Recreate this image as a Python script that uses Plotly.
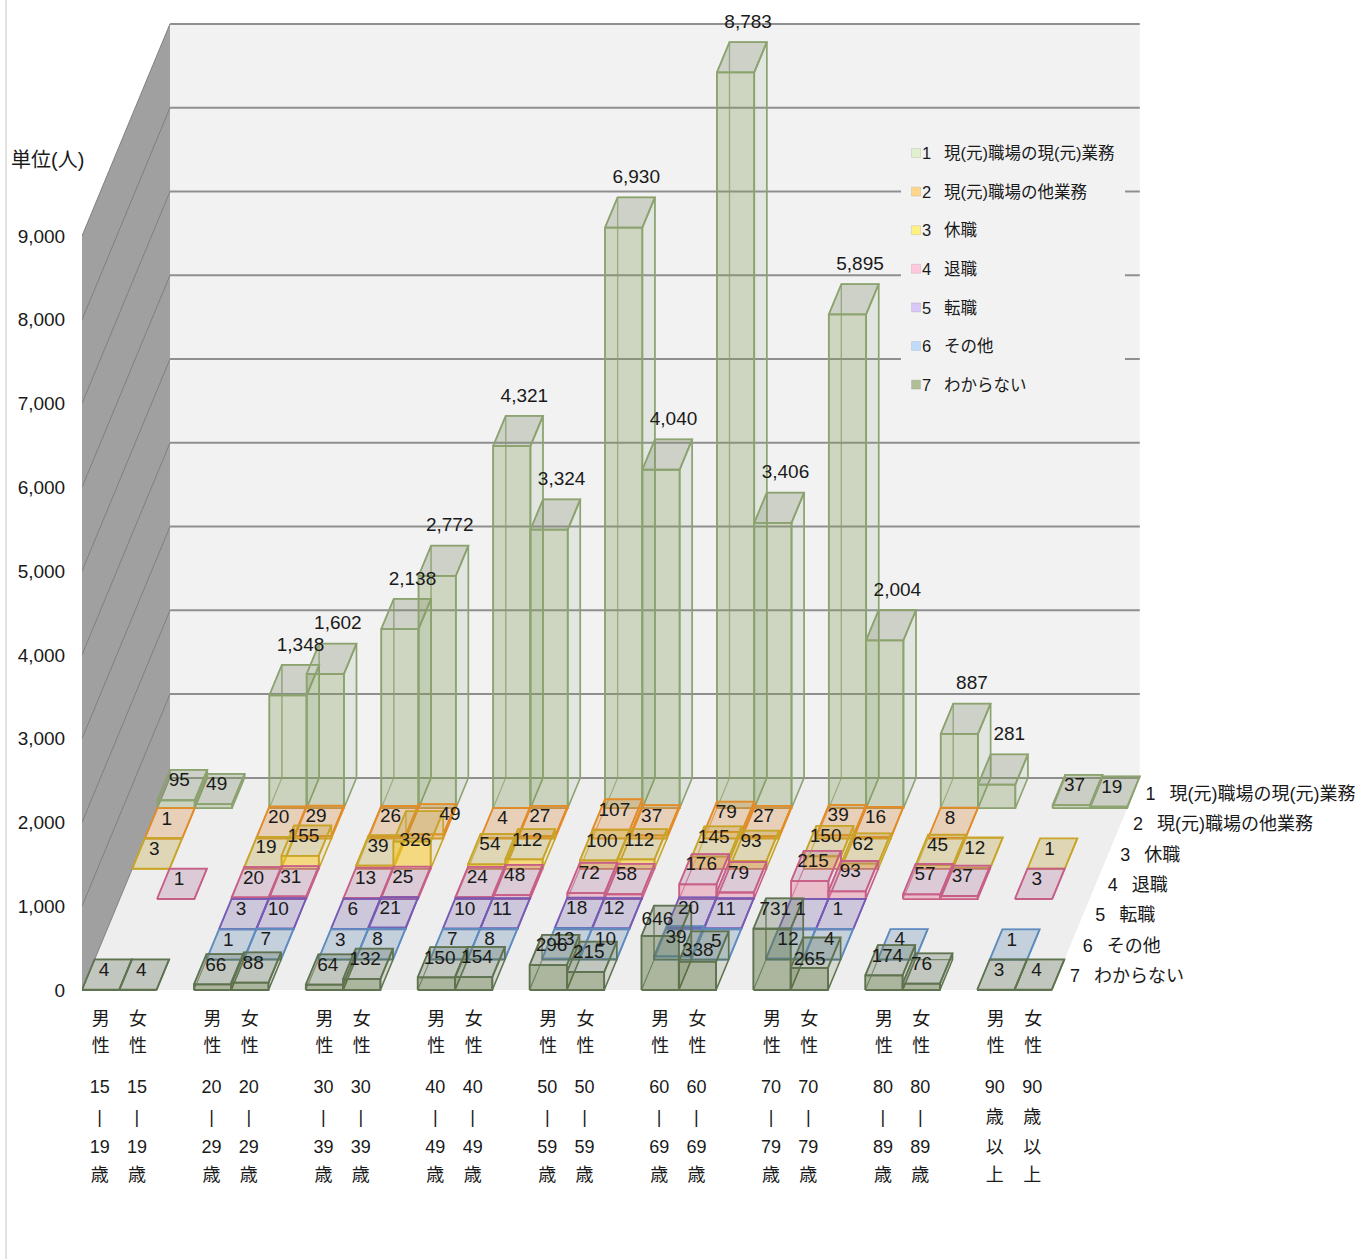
import plotly.graph_objects as go

# ---- data -------------------------------------------------------------
SERIES_NAMES = ["現(元)職場の現(元)業務", "現(元)職場の他業務", "休職", "退職", "転職", "その他", "わからない"]
SERIES_1 = [95, 49, 1348, 1602, 2138, 2772, 4321, 3324, 6930, 4040, 8783, 3406, 5895, 2004, 887, 281, 37, 19]
SERIES_2 = [1, None, 20, 29, 26, 49, 4, 27, 107, 37, 79, 27, 39, 16, 8, None, None, None]
SERIES_3 = [3, None, 19, 155, 39, 326, 54, 112, 100, 112, 145, 93, 150, 62, 45, 12, 1, None]
SERIES_4 = [None, 1, 20, 31, 13, 25, 24, 48, 72, 58, 176, 79, 215, 93, 57, 37, 3, None]
SERIES_5 = [None, None, 3, 10, 6, 21, 10, 11, 18, 12, 20, 11, 1, 1, None, None, None, None]
SERIES_6 = [None, None, 1, 7, 3, 8, 7, 8, 13, 10, 39, 5, 12, 4, 4, None, 1, None]
SERIES_7 = [4, 4, 66, 88, 64, 132, 150, 154, 296, 215, 646, 338, 731, 265, 174, 76, 3, 4]
ALL_SERIES = [SERIES_1, SERIES_2, SERIES_3, SERIES_4, SERIES_5, SERIES_6, SERIES_7]
GENDERS = [["男", "性"], ["女", "性"]]
AGE_GROUPS = [["15", "|", "19", "歳"], ["20", "|", "29", "歳"], ["30", "|", "39", "歳"],
              ["40", "|", "49", "歳"], ["50", "|", "59", "歳"], ["60", "|", "69", "歳"],
              ["70", "|", "79", "歳"], ["80", "|", "89", "歳"], ["90", "歳", "以", "上"]]
VALUE_TICKS = [0, 1000, 2000, 3000, 4000, 5000, 6000, 7000, 8000, 9000]

# ---- styles -----------------------------------------------------------
EDGE = ["rgb(140,163,112)", "rgb(226,140,40)", "rgb(200,165,40)", "rgb(200,95,135)",
        "rgb(120,90,180)", "rgb(95,140,190)", "rgb(95,115,80)"]
FRONT = ["rgba(130,155,90,.32)", "rgba(240,160,40,.40)", "rgba(250,200,40,.55)", "rgba(230,130,160,.45)",
         "rgba(150,110,220,.40)", "rgba(110,160,220,.40)", "rgba(90,110,60,.45)"]
TOP = ["rgba(130,140,110,.32)", "rgba(220,140,60,.30)", "rgba(190,160,50,.30)", "rgba(180,120,160,.30)",
       "rgba(130,110,180,.30)", "rgba(100,140,180,.30)", "rgba(110,125,100,.35)"]
SIDE = ["rgba(130,160,120,.14)", "rgba(220,150,80,.12)", "rgba(200,170,60,.12)", "rgba(200,120,160,.12)",
        "rgba(130,110,180,.12)", "rgba(100,140,180,.12)", "rgba(100,120,80,.18)"]
SWATCH = ["rgb(225,240,205)", "rgb(255,215,140)", "rgb(255,240,130)", "rgb(255,200,220)",
          "rgb(215,200,245)", "rgb(190,220,250)", "rgb(175,190,150)"]
LATIN = "'Liberation Sans', 'Noto Sans CJK JP', sans-serif"
INK = "#1a1a1a"

# ---- geometry: one category = 37.3 px, 1 person = 0.08378 px ----------
W, H = 1359, 1259
LEFT_PX, ZERO_PX = 82.0, 990.0
CAT_PX, VAL_PX = 37.3, (990 - 236) / 9000
ROW_DX_PX, ROW_DY_PX = 12.57, 30.3
N_CATS, N_ROWS = 26, 7
TOP_VALUE = 9000

# hand placement of crowded data labels in the original: (series, index) -> px right, px down
LABEL_NUDGE = {(1, 5): (22, 0), (2, 5): (0, 18), (6, 10): (-6, 3), (6, 11): (-3, 8), (6, 13): (-3, 11),
               (5, 11): (3, 2), (5, 13): (4, 0), (5, 9): (4, 0), (6, 15): (-3, 0)}


def px_x(px):
    return px / CAT_PX


def px_y(px):
    return px / VAL_PX


def screen(x_px, y_px):
    return px_x(x_px - LEFT_PX), px_y(ZERO_PX - y_px)


def project(cat, row, value, ox=0.0, oy=0.0):
    """Oblique projection: (category, depth row, value) -> axis units, plus a pixel nudge."""
    return cat + px_x(row * ROW_DX_PX + ox), value + px_y(row * ROW_DY_PX + oy)


def poly(points):
    xs, ys = zip(*[project(*p) for p in points])
    return list(xs) + [xs[0], None], list(ys) + [ys[0], None]


def add_poly(bucket, points):
    xs, ys = poly(points)
    bucket[0].extend(xs)
    bucket[1].extend(ys)


fig = go.Figure()


def wall(points, colour):
    xs, ys = poly(points)
    fig.add_trace(go.Scatter(x=xs, y=ys, mode="lines", fill="toself", fillcolor=colour,
                             line=dict(width=0), hoverinfo="skip", showlegend=False))


wall([(0, 7, 0), (N_CATS, 7, 0), (N_CATS, 7, TOP_VALUE), (0, 7, TOP_VALUE)], "#f2f2f2")
wall([(0, 0, 0), (0, 7, 0), (0, 7, TOP_VALUE), (0, 0, TOP_VALUE)], "#a0a0a0")
wall([(0, 0, 0), (N_CATS, 0, 0), (N_CATS, 7, 0), (0, 7, 0)], "#eeeeee")

back_x, back_y, side_x, side_y = [], [], [], []
for v in VALUE_TICKS:
    x0, y0 = project(0, 7, v)
    x1, y1 = project(N_CATS, 7, v)
    back_x += [x0, x1, None]
    back_y += [y0, y1, None]
    x2, y2 = project(0, 0, v)
    side_x += [x2, x0, None]
    side_y += [y2, y0, None]
fig.add_trace(go.Scatter(x=side_x, y=side_y, mode="lines", line=dict(color="#7f7f7f", width=1),
                         hoverinfo="skip", showlegend=False))
fig.add_trace(go.Scatter(x=back_x, y=back_y, mode="lines", line=dict(color="#8f8f8f", width=2),
                         hoverinfo="skip", showlegend=False))

# legend panel, over the grid lines
LEGEND_BOX = [(901, 135), (1125, 135), (1125, 405), (901, 405), (901, 135)]
bx, by = zip(*[screen(*p) for p in LEGEND_BOX])
fig.add_trace(go.Scatter(x=bx, y=by, mode="lines", fill="toself", fillcolor="#f2f2f2",
                         line=dict(width=0), hoverinfo="skip", showlegend=False))


def cat_of(i):
    return (i // 2) * 3 + i % 2


# bars, painted back row to front row
label_x, label_y, label_t = [], [], []
for s in range(N_ROWS):
    row = N_ROWS - 1 - s
    hidden, side, top, front = ([], []), ([], []), ([], []), ([], [])
    for i, v in enumerate(ALL_SERIES[s]):
        if v is None:
            continue
        c = cat_of(i)
        add_poly(hidden, [(c, row, 0), (c, row + 1, 0), (c, row + 1, v), (c, row, v)])
        add_poly(hidden, [(c, row + 1, 0), (c + 1, row + 1, 0), (c + 1, row + 1, v), (c, row + 1, v)])
        add_poly(side, [(c + 1, row, 0), (c + 1, row + 1, 0), (c + 1, row + 1, v), (c + 1, row, v)])
        add_poly(top, [(c, row, v), (c + 1, row, v), (c + 1, row + 1, v), (c, row + 1, v)])
        add_poly(front, [(c, row, 0), (c + 1, row, 0), (c + 1, row, v), (c, row, v)])
        nx, ny = LABEL_NUDGE.get((s, i), (0, 0))
        if s == 0 and v >= 200:
            lx, ly = project(c + 0.5, row + 1, v, nx, 19 - ny)
        else:
            lx, ly = project(c + 0.5, row + 0.5, v, -3 + nx, 3.5 - ny)
        label_x.append(lx)
        label_y.append(ly)
        label_t.append(f"{v:,}")
    for pts, fc, width in ((hidden, None, 1.2), (side, SIDE[s], 1.6), (top, TOP[s], 1.8), (front, FRONT[s], 1.8)):
        fig.add_trace(go.Scatter(x=pts[0], y=pts[1], mode="lines", name=SERIES_NAMES[s],
                                 fill="toself" if fc else None, fillcolor=fc,
                                 line=dict(color=EDGE[s], width=width),
                                 opacity=0.75 if fc is None else 1,
                                 hoverinfo="skip", showlegend=False))

# data labels
fig.add_trace(go.Scatter(x=label_x, y=label_y, text=label_t, mode="text", textposition="middle center",
                         textfont=dict(family=LATIN, size=19, color=INK), hoverinfo="skip", showlegend=False))

# depth axis labels
depth_x, depth_y, depth_t = [], [], []
for s, name in enumerate(SERIES_NAMES):
    x, y = project(N_CATS, N_ROWS - 1 - s + 0.5, 0, 12, -2.5)
    depth_x.append(x)
    depth_y.append(y)
    depth_t.append(f"{s + 1}\u2002\u00a0{name}")
fig.add_trace(go.Scatter(x=depth_x, y=depth_y, text=depth_t, mode="text", textposition="middle right",
                         textfont=dict(family=LATIN, size=18, color=INK), hoverinfo="skip", showlegend=False))

# category labels, one line at a time so the line pitch follows the original
GENDER_LINE_PX = [30, 57]
AGE_LINE_PX = [98, 128, 158, 186]
cx, cy, ct = [], [], []
for g, age in enumerate(AGE_GROUPS):
    for k, gender in enumerate(GENDERS):
        c = g * 3 + k + 0.5
        for line, off in zip(gender, GENDER_LINE_PX):
            cx.append(c)
            cy.append(-px_y(off))
            ct.append(line)
        for line, off in zip(age, AGE_LINE_PX):
            cx.append(c - px_x(1))
            cy.append(-px_y(off))
            ct.append(line)
fig.add_trace(go.Scatter(x=cx, y=cy, text=ct, mode="text", textposition="middle center",
                         textfont=dict(family=LATIN, size=18, color=INK), hoverinfo="skip", showlegend=False))

# legend: swatches and their texts
LEGEND_FIRST_PX, LEGEND_PITCH_PX = 153, 38.6
lg = [screen(916, LEGEND_FIRST_PX + LEGEND_PITCH_PX * s) for s in range(N_ROWS)]
fig.add_trace(go.Scatter(x=[p[0] for p in lg], y=[p[1] for p in lg], mode="markers", hoverinfo="skip",
                         showlegend=False,
                         marker=dict(symbol="square", size=9, color=SWATCH,
                                     line=dict(color="rgba(120,120,120,.18)", width=1))))
lt = [screen(922, LEGEND_FIRST_PX + 2 + LEGEND_PITCH_PX * s) for s in range(N_ROWS)]
fig.add_trace(go.Scatter(x=[p[0] for p in lt], y=[p[1] for p in lt], mode="text", textposition="middle right",
                         text=[f"{s + 1}\u2002\u00a0{n}" for s, n in enumerate(SERIES_NAMES)],
                         textfont=dict(family=LATIN, size=16.5, color=INK), hoverinfo="skip", showlegend=False))

fig.update_layout(
    width=W, height=H, margin=dict(l=LEFT_PX, r=0, t=0, b=0, pad=0),
    paper_bgcolor="white", plot_bgcolor="white", showlegend=False,
    xaxis=dict(range=[0, (W - LEFT_PX) / CAT_PX], visible=False, fixedrange=True),
    yaxis=dict(range=[-(H - ZERO_PX) / VAL_PX, ZERO_PX / VAL_PX], tickmode="array", tickvals=VALUE_TICKS,
               tickformat=",", ticks="outside", ticklen=12, tickcolor="rgba(0,0,0,0)", showgrid=False,
               zeroline=False, showline=False, tickfont=dict(family=LATIN, size=19, color=INK), fixedrange=True),
    annotations=[dict(text="単位(人)", xref="paper", yref="paper", x=(9 - LEFT_PX) / (W - LEFT_PX),
                      y=(H - 160) / H, xanchor="left", yanchor="middle", showarrow=False,
                      font=dict(family=LATIN, size=20, color=INK))],
    shapes=[dict(type="line", xref="paper", yref="paper", x0=(6 - LEFT_PX) / (W - LEFT_PX),
                 x1=(6 - LEFT_PX) / (W - LEFT_PX), y0=0, y1=1, line=dict(color="#d9d9d9", width=1.5))],
)

fig.write_html("out.html", config={"displayModeBar": False},
               post_script="document.body.style.margin='0';document.body.style.overflow='hidden';")
